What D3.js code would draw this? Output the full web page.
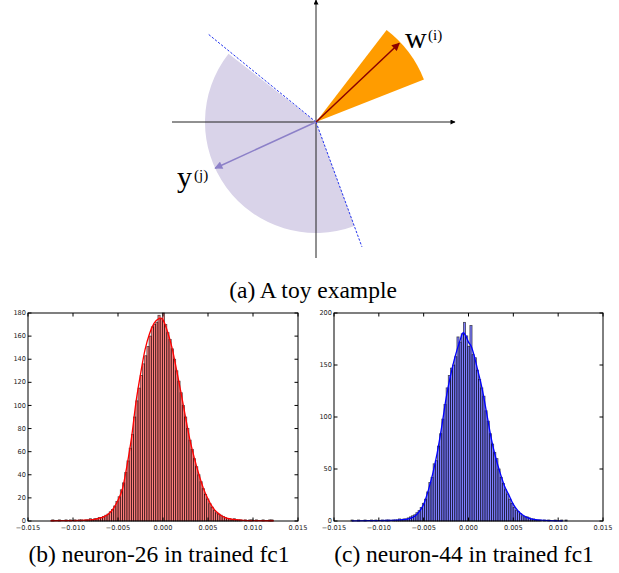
<!DOCTYPE html>
<html><head><meta charset="utf-8">
<script src="https://cdn.jsdelivr.net/npm/d3@7"></script>
<style>body{margin:0;background:#fff}</style>
</head><body><svg id="c" width="619" height="573" xmlns="http://www.w3.org/2000/svg"></svg>
<script>
// ---------- data ----------
const captions = ["(a) A toy example", "(b) neuron-26 in trained fc1", "(c) neuron-44 in trained fc1"];
const xTicks = [-0.015, -0.010, -0.005, 0.000, 0.005, 0.010, 0.015];
const yTicksB = [0, 20, 40, 60, 80, 100, 120, 140, 160, 180];
const yTicksC = [0, 50, 100, 150, 200];
const binStartB = -0.01237, binWidthB = 0.000246;
const binStartC = -0.01310, binWidthC = 0.000241;
const countsB = [
  1,0,0,1,0,0,1,0,1,0,
  1,0,1,1,0,1,1,2,1,2,
  2,3,3,4,5,6,8,10,13,17,
  21,27,33,42,52,63,75,90,104,115,
  126,136,143,151,160,168,170,172,178,175,
  180,170,163,157,149,140,130,121,111,100,
  90,80,70,62,54,47,40,34,28,23,
  19,15,12,9,7,6,5,4,3,2,
  2,1,2,1,1,1,0,1,0,1,
  1,0,1,0,0,1,0,0,1,1];
const curveBX = [-0.0125,-0.011,-0.010,-0.009,-0.008,-0.0075,-0.007,-0.0065,-0.006,-0.0055,-0.005,-0.0045,-0.004,-0.0035,-0.003,-0.0025,-0.002,-0.0015,-0.001,-0.0005,-0.0002,0.0,0.0005,0.001,0.0015,0.002,0.0025,0.003,0.0035,0.004,0.0045,0.005,0.0055,0.006,0.0065,0.007,0.0075,0.008,0.009,0.010,0.0123];
const curveBY = [0.2,0.3,0.4,0.6,1.0,1.6,2.6,4.0,6.5,11,18,28,48,72,103,127,148,162,171,175,175.5,174,164,150,131,111,90,70,54,40,28,19,12,7.5,4.5,2.8,1.8,1.1,0.5,0.3,0.2];
const countsC = [
  1,0,0,1,0,0,1,0,0,1,
  0,1,0,0,1,0,1,1,0,1,
  1,1,2,1,2,2,3,4,5,6,
  8,10,13,17,21,28,37,42,55,58,
  72,84,98,112,128,140,147,150,158,177,
  172,180,191,178,168,188,160,157,145,136,
  128,120,106,96,84,74,66,60,50,42,
  36,30,26,21,17,13,10,9,7,5,
  4,4,3,2,2,1,1,1,0,1,
  0,1,0,0,1,0,0,1,0,1];
const curveCX = [-0.013,-0.011,-0.009,-0.008,-0.007,-0.0065,-0.006,-0.0055,-0.005,-0.0045,-0.004,-0.0035,-0.003,-0.0025,-0.002,-0.0015,-0.001,-0.0006,-0.0003,0.0,0.0003,0.0006,0.001,0.0015,0.002,0.0025,0.003,0.0035,0.004,0.0045,0.005,0.0055,0.006,0.0065,0.007,0.0075,0.008,0.009,0.0105];
const curveCY = [0.2,0.3,0.5,0.8,1.5,2.5,4.5,9,16,29,45,65,90,118,140,158,172,181,178,172,168,160,146,128,105,81,62,47,34,25,16,10,6,3.5,2,1.2,0.8,0.4,0.2];

// toy example (unit vectors, angles in degrees measured counter-clockwise)
const wAngle = 43.4, wLength = 1.146;
const yAngle = 204.6, yLength = 1.11;
const orangeAngles = [21.5, 52.5], orangeRadius = 1.16;
const purpleAngles = [142, 290.3], purpleRadius = 1.11;
const dashedLines = [{angle: 140.8, length: 1.39}, {angle: 290.2, length: 1.33}];
const axisH = [-1.44, 1.39], axisV = [-1.36, 1.22];

// ---------- drawing ----------
const svg = d3.select("#c");
const serif = "'Liberation Serif','Times New Roman',serif";
const sans = "'DejaVu Sans',sans-serif";

// toy diagram
const ox = 316, oy = 122, unit = 100;
const sx = d3.scaleLinear().domain([0, 1]).range([ox, ox + unit]);
const sy = d3.scaleLinear().domain([0, 1]).range([oy, oy - unit]);
const rad = d => d * Math.PI / 180;
const defs = svg.append("defs");
function marker(id, color, w, h) {
  defs.append("marker").attr("id", id).attr("viewBox", "0 0 10 10").attr("refX", 9).attr("refY", 5)
    .attr("markerWidth", w).attr("markerHeight", h).attr("markerUnits", "userSpaceOnUse").attr("orient", "auto")
    .append("path").attr("d", "M0,0 L10,5 L0,10 z").attr("fill", color);
}
marker("mw", "#8b0000", 9, 8);
marker("my", "#8c80c8", 9, 8);
marker("ma", "#000", 6, 5);

const g = svg.append("g");
const arcGen = d3.arc().innerRadius(0);
// purple sector
g.append("path").attr("transform", `translate(${sx(0)},${sy(0)})`)
  .attr("d", arcGen.outerRadius(sx(purpleRadius) - sx(0))({startAngle: rad(90 - purpleAngles[1]), endAngle: rad(90 - purpleAngles[0])}))
  .attr("fill", "#d9d3e9");
// orange sector
g.append("path").attr("transform", `translate(${sx(0)},${sy(0)})`)
  .attr("d", arcGen.outerRadius(sx(orangeRadius) - sx(0))({startAngle: rad(90 - orangeAngles[1]), endAngle: rad(90 - orangeAngles[0])}))
  .attr("fill", "#ff9c00");
// axes
g.append("line").attr("x1", sx(axisH[0])).attr("x2", sx(axisH[1])).attr("y1", sy(0)).attr("y2", sy(0))
  .attr("stroke", "#222").attr("stroke-width", 1).attr("marker-end", "url(#ma)");
g.append("line").attr("x1", sx(0)).attr("x2", sx(0)).attr("y1", sy(axisV[0])).attr("y2", sy(axisV[1]))
  .attr("stroke", "#222").attr("stroke-width", 1).attr("marker-end", "url(#ma)");
// dashed lines
dashedLines.forEach(d => {
  g.append("line").attr("x1", sx(0)).attr("y1", sy(0))
    .attr("x2", sx(d.length * Math.cos(rad(d.angle)))).attr("y2", sy(d.length * Math.sin(rad(d.angle))))
    .attr("stroke", "#2233ee").attr("stroke-width", 1).attr("stroke-dasharray", "2.4,1.6");
});
// vectors
g.append("line").attr("x1", sx(0)).attr("y1", sy(0))
  .attr("x2", sx(wLength * Math.cos(rad(wAngle)))).attr("y2", sy(wLength * Math.sin(rad(wAngle))))
  .attr("stroke", "#8b0000").attr("stroke-width", 1.5).attr("marker-end", "url(#mw)");
g.append("line").attr("x1", sx(0)).attr("y1", sy(0))
  .attr("x2", sx(yLength * Math.cos(rad(yAngle)))).attr("y2", sy(yLength * Math.sin(rad(yAngle))))
  .attr("stroke", "#8c80c8").attr("stroke-width", 1.5).attr("marker-end", "url(#my)");
// labels
g.append("text").attr("x", 405).attr("y", 48).attr("font-family", serif).attr("font-size", 30).text("w");
g.append("text").attr("x", 428).attr("y", 40).attr("font-family", serif).attr("font-size", 15).text("(i)");
g.append("text").attr("x", 177).attr("y", 187).attr("font-family", serif).attr("font-size", 30).text("y");
g.append("text").attr("x", 194).attr("y", 180).attr("font-family", serif).attr("font-size", 15).text("(j)");

// captions
svg.append("text").attr("x", 313).attr("y", 298).attr("text-anchor", "middle").attr("font-family", serif).attr("font-size", 23.5).text(captions[0]);
svg.append("text").attr("x", 159).attr("y", 562).attr("text-anchor", "middle").attr("font-family", serif).attr("font-size", 23.5).text(captions[1]);
svg.append("text").attr("x", 464).attr("y", 562).attr("text-anchor", "middle").attr("font-family", serif).attr("font-size", 23.5).text(captions[2]);

// histograms
function hist(cfg) {
  const {x0, x1, y0, y1, counts, binStart, binWidth, yTicks, yMax, cx, cy, fill, line} = cfg;
  const xs = d3.scaleLinear().domain([-0.015, 0.015]).range([x0, x1]);
  const ys = d3.scaleLinear().domain([0, yMax]).range([y1, y0]);
  const h = svg.append("g");
  h.selectAll("rect.bar").data(counts).join("rect").attr("class", "bar")
    .attr("x", (d, i) => xs(binStart + i * binWidth))
    .attr("width", (d, i) => xs(binStart + (i + 1) * binWidth) - xs(binStart + i * binWidth))
    .attr("y", d => ys(d)).attr("height", d => ys(0) - ys(d))
    .attr("fill", fill).attr("fill-opacity", 0.5)
    .attr("stroke", "#000").attr("stroke-opacity", 0.65).attr("stroke-width", 0.8);
  const pts = cx.map((v, i) => [xs(v), ys(cy[i])]);
  h.append("path").attr("d", d3.line().curve(d3.curveMonotoneX)(pts))
    .attr("fill", "none").attr("stroke", line).attr("stroke-width", 1.3);
  h.append("rect").attr("x", x0).attr("y", y0).attr("width", x1 - x0).attr("height", y1 - y0)
    .attr("fill", "none").attr("stroke", "#000").attr("stroke-width", 1);
  const tl = 3.5;
  const fmt = d3.format(".3f");
  xTicks.forEach(t => {
    const x = xs(t);
    h.append("line").attr("x1", x).attr("x2", x).attr("y1", y1).attr("y2", y1 - tl).attr("stroke", "#000");
    h.append("line").attr("x1", x).attr("x2", x).attr("y1", y0).attr("y2", y0 + tl).attr("stroke", "#000");
    h.append("text").attr("x", x).attr("y", y1 + 8.8).attr("text-anchor", "middle")
      .attr("font-family", sans).attr("font-size", 6.6).attr("fill", "#222").text(fmt(t));
  });
  yTicks.forEach(t => {
    const y = ys(t);
    h.append("line").attr("x1", x0).attr("x2", x0 + tl).attr("y1", y).attr("y2", y).attr("stroke", "#000");
    h.append("line").attr("x1", x1).attr("x2", x1 - tl).attr("y1", y).attr("y2", y).attr("stroke", "#000");
    h.append("text").attr("x", x0 - 2).attr("y", y + 2.1).attr("text-anchor", "end")
      .attr("font-family", sans).attr("font-size", 6.6).attr("fill", "#222").text(t);
  });
}
hist({x0: 28, x1: 298, y0: 313, y1: 521, counts: countsB, binStart: binStartB, binWidth: binWidthB,
  yTicks: yTicksB, yMax: 180, cx: curveBX, cy: curveBY, fill: "#ff0000", line: "#ff0000"});
hist({x0: 334, x1: 603, y0: 313, y1: 521, counts: countsC, binStart: binStartC, binWidth: binWidthC,
  yTicks: yTicksC, yMax: 200, cx: curveCX, cy: curveCY, fill: "#0000ff", line: "#0000ff"});
</script>
</body></html>
